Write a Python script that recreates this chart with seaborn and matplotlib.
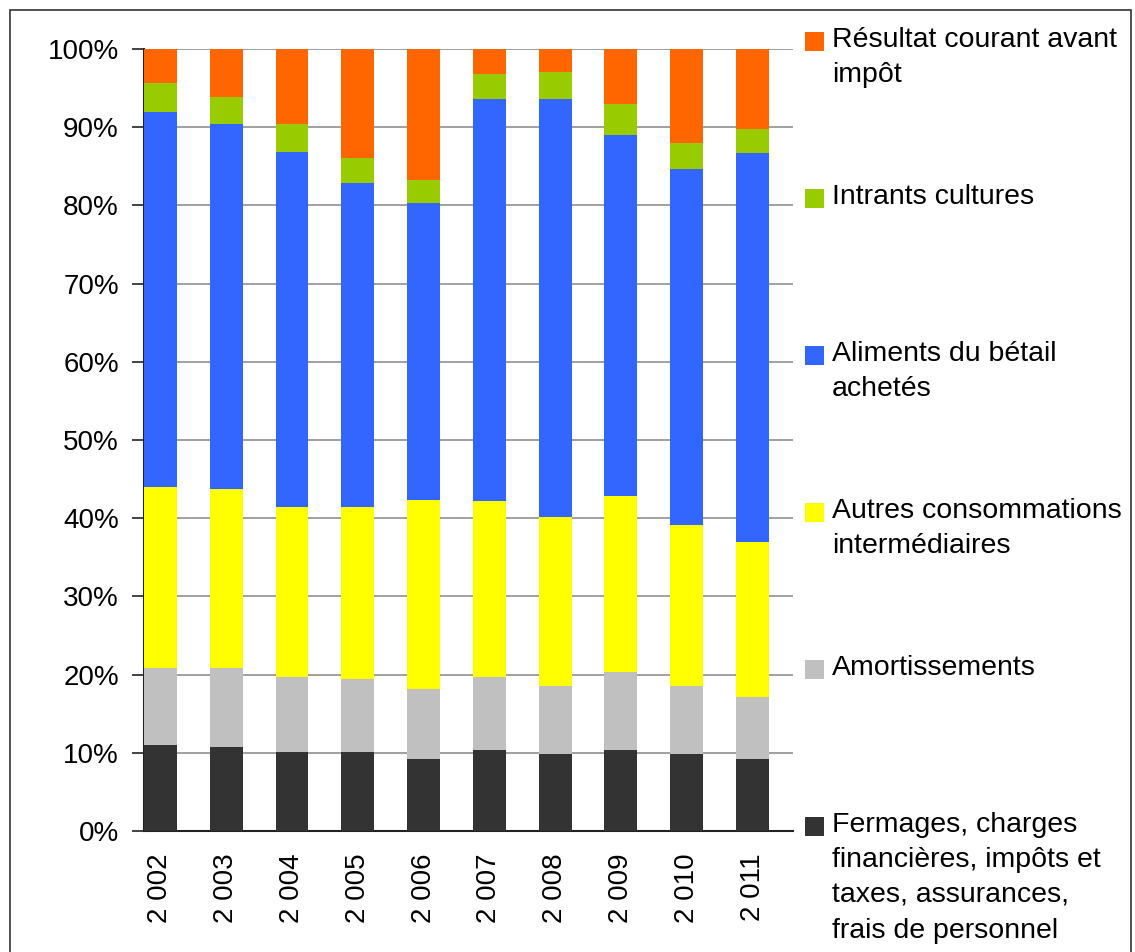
import pandas as pd
import numpy as np
import matplotlib
matplotlib.use('Agg')
import matplotlib.pyplot as plt
from matplotlib.patches import Rectangle
import seaborn as sns

# Data (shares in %)
years = ['2 002', '2 003', '2 004', '2 005', '2 006', '2 007', '2 008', '2 009', '2 010', '2 011']
fermages = [11.0, 10.7, 10.1, 10.1, 9.2, 10.3, 9.8, 10.3, 9.8, 9.2]
amortissements = [9.8, 10.1, 9.6, 9.3, 8.9, 9.4, 8.7, 10.0, 8.7, 7.9]
autres_conso = [23.2, 22.9, 21.7, 22.0, 24.2, 22.5, 21.6, 22.5, 20.6, 19.9]
aliments = [48.0, 46.7, 45.4, 41.5, 38.0, 51.4, 53.5, 46.2, 45.5, 49.7]
intrants = [3.6, 3.4, 3.6, 3.1, 3.0, 3.2, 3.5, 4.0, 3.4, 3.1]
resultat = [4.4, 6.2, 9.6, 14.0, 16.7, 3.2, 2.9, 7.0, 12.0, 10.2]

labels = ['Fermages, charges\nfinancières, impôts et\ntaxes, assurances,\nfrais de personnel',
          'Amortissements',
          'Autres consommations\nintermédiaires',
          'Aliments du bétail\nachetés',
          'Intrants cultures',
          'Résultat courant avant\nimpôt']
colors = ['#333333', '#C0C0C0', '#FFFF00', '#3366FF', '#99CC00', '#FF6600']

series = [fermages, amortissements, autres_conso, aliments, intrants, resultat]
df = pd.DataFrame(dict(zip(labels, series)), index=years)
df = df.div(df.sum(axis=1), axis=0) * 100
cum = df.cumsum(axis=1)
cum['year'] = years

sns.set_style('white')
plt.rcParams['font.family'] = ['Liberation Sans', 'DejaVu Sans']
plt.rcParams['text.color'] = 'black'
plt.rcParams['xtick.color'] = 'black'
plt.rcParams['ytick.color'] = 'black'

W, H = 1135, 952
fig = plt.figure(figsize=(W / 100, H / 100), dpi=100)
ax = fig.add_axes([144 / W, 121 / H, 649 / W, 782 / H])

bw = 0.5
# stacked bars: draw cumulative heights from the top down
for lab, col in reversed(list(zip(labels, colors))):
    sns.barplot(data=cum, x='year', y=lab, color=col, width=bw,
                saturation=1, ax=ax, zorder=3, linewidth=0)

n = len(years)
ax.set_ylim(0, 100)
ax.set_xlim(-bw / 2, (649 - 16.5) / 65.78)
ax.set_yticks(np.arange(0, 101, 10))
ax.set_yticklabels([f'{v}%' for v in range(0, 101, 10)], fontsize=20)
ax.yaxis.grid(True, color='#999999', linewidth=1.3, zorder=0)
ax.set_axisbelow(True)
ax.set_xlabel('')
ax.set_ylabel('')
ax.set_xticks(range(n))
ax.set_xticklabels(years, rotation=90, fontsize=20)
edges = sorted([i - bw / 2 for i in range(n)] + [i + bw / 2 for i in range(n)])
ax.set_xticks(edges, minor=True)
ax.tick_params(axis='x', which='major', length=0, pad=16)
ax.tick_params(axis='x', which='minor', length=9, width=1.2, color='#222222', direction='out')
ax.tick_params(axis='y', length=9, width=1.2, color='#222222', direction='out', left=True, pad=9)
for s in ['top', 'right']:
    ax.spines[s].set_visible(False)
for s in ['left', 'bottom']:
    ax.spines[s].set_color('#222222')
    ax.spines[s].set_linewidth(1.5)

# legend on the right, entries spread like the original
entry_y = [826.7, 669.7, 512.7, 355.7, 198.7, 41.7]
for lab, col, yc in zip(labels, colors, entry_y):
    fig.patches.append(Rectangle((805 / W, 1 - (yc + 9.5) / H), 19 / W, 19 / H,
                                 transform=fig.transFigure, facecolor=col, edgecolor='none'))
    fig.text(832 / W, 1 - (yc - 15) / H, lab, fontsize=20.5, va='top', ha='left',
             linespacing=1.47, color='black')

# outer frame
fig.patches.append(Rectangle((10 / W, -0.01), 1121 / W, 1 - 10 / H + 0.01,
                             transform=fig.transFigure, facecolor='none',
                             edgecolor='#333333', linewidth=1.2))

fig.savefig('out.png', dpi=100)
